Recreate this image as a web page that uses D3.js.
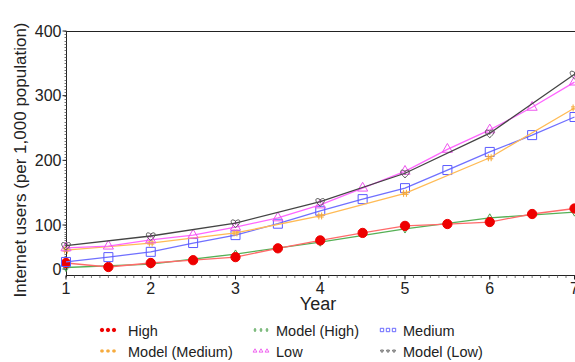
<!DOCTYPE html>
<html><head><meta charset="utf-8">
<script src="https://cdn.jsdelivr.net/npm/d3@7"></script>
<style>body{margin:0;background:#fff;} text{font-family:"Liberation Sans",Arial,sans-serif;}</style>
</head><body>
<svg id="c" width="575" height="362"></svg>
<script>
const halfYears = [1,1.5,2,2.5,3,3.5,4,4.5,5,5.5,6,6.5,7];
const years = [1,2,3,4,5,6,7];
const high = [13.6,4.5,13.6,20,27,47,65,82,98,101.5,104.6,117,125.5];
const modelHigh = [3.4,11,34,61,91,111,120];
const medium = [16,27,39,59,77,102,122,140,157,185,213,239,267];
const modelMedium = [43,59,82,114,149,204,281];
const low = [48,52,66,77,95,111,131,157,183,217,247,282,321];
const modelLow = [53,75,103,136,180,242,333];
const yTicks = [0,100,200,300,400];
const xTicks = [1,2,3,4,5,6,7];
const legendLabels = ["High","Model (High)","Medium","Model (Medium)","Low","Model (Low)"];

const svg = d3.select("#c");
const x = d3.scaleLinear().domain([1,7]).range([66,574.5]);
const y = d3.scaleLinear().domain([0,100,400]).range([269,225,31]);
const axisY = 275;

// frame top line
svg.append("line").attr("x1",66).attr("x2",575).attr("y1",31.5).attr("y2",31.5).attr("stroke","#222").attr("stroke-width",1);

// y axis
const ya = svg.append("g").attr("transform","translate(66.5,0)");
ya.append("line").attr("y1",31).attr("y2",axisY+2).attr("stroke","#222");
const yMinor = d3.range(0,401,5);
ya.selectAll(".ym").data(yMinor).join("line").attr("x1",-2).attr("x2",0)
  .attr("y1",d=>Math.round(y(d))+0.5).attr("y2",d=>Math.round(y(d))+0.5).attr("stroke","#555").attr("stroke-width",0.8);
ya.selectAll(".yM").data(yTicks).join("line").attr("x1",-4).attr("x2",0)
  .attr("y1",d=>y(d)).attr("y2",d=>y(d)).attr("stroke","#222");
ya.selectAll(".yl").data(yTicks).join("text").attr("x",-5).attr("y",d=>y(d)).attr("dy","0.35em")
  .attr("text-anchor","end").attr("font-size",16).attr("fill","#222").text(d=>d);

// x axis
const xa = svg.append("g").attr("transform",`translate(0,${axisY+0.5})`);
xa.append("line").attr("x1",66).attr("x2",575).attr("stroke","#222");
const xMinor = d3.range(10,71).map(d=>d/10);
xa.selectAll(".xm").data(xMinor).join("line").attr("x1",d=>x(d)).attr("x2",d=>x(d)).attr("y1",0).attr("y2",2.5).attr("stroke","#555").attr("stroke-width",0.8);
xa.selectAll(".xM").data(xTicks).join("line").attr("x1",d=>x(d)).attr("x2",d=>x(d)).attr("y1",0).attr("y2",4).attr("stroke","#222");
xa.selectAll(".xl").data(xTicks).join("text").attr("x",d=>x(d)).attr("y",18).attr("text-anchor","middle")
  .attr("font-size",16).attr("fill","#222").text(d=>d);

svg.append("text").attr("x",318).attr("y",310).attr("text-anchor","middle").attr("font-size",18).attr("fill","#222").text("Year");
svg.append("text").attr("transform","translate(26,160) rotate(-90)").attr("text-anchor","middle").attr("font-size",17).attr("fill","#222").text("Internet users (per 1,000 population)");

// marker shapes
const heart = s => `M0,${s*0.9} C${-s*1.3},${-s*0.1} ${-s*1.0},${-s*1.1} 0,${-s*0.4} C${s*1.0},${-s*1.1} ${s*1.3},${-s*0.1} 0,${s*0.9}Z M0,${-s*0.4} L0,${s*0.3}`;
const hash = s => `M${-s*0.4},${-s} L${-s*0.4},${s} M${s*0.4},${-s} L${s*0.4},${s} M${-s},${-s*0.3} L${s},${-s*0.3} M${-s},${s*0.3} L${s},${s*0.3}`;
const series = [
  {name:"Model (High)", xs:years, ys:modelHigh, line:"#55b055", mk:"#4a9f4a", shape:s=>d3.symbol(d3.symbolDiamond, s*s*1.2)(), fill:"none", size:4},
  {name:"High", xs:halfYears, ys:high, line:"#ff6a6a", mk:"#ee0000", shape:s=>d3.symbol(d3.symbolCircle, s*s*3.2)(), fill:"#ee0000", size:4.6},
  {name:"Medium", xs:halfYears, ys:medium, line:"#7070ff", mk:"#5a5aff", shape:s=>d3.symbol(d3.symbolSquare, s*s*4)(), fill:"none", size:4.5},
  {name:"Model (Medium)", xs:years, ys:modelMedium, line:"#ffbb55", mk:"#f5a838", shape:hash, fill:"none", size:3.5},
  {name:"Low", xs:halfYears, ys:low, line:"#ff66ff", mk:"#ee55ee", shape:s=>d3.symbol(d3.symbolTriangle, s*s*2.2)(), fill:"none", size:4.5},
  {name:"Model (Low)", xs:years, ys:modelLow, line:"#444444", mk:"#555555", shape:heart, fill:"none", size:5}
];
const lineGen = d3.line().x(d=>x(d[0])).y(d=>y(d[1]));
series.forEach(s=>{
  const pts = s.xs.map((v,i)=>[v,s.ys[i]]);
  svg.append("path").attr("d",lineGen(pts)).attr("fill","none").attr("stroke",s.line).attr("stroke-width",1.3);
  svg.selectAll(null).data(pts).join("path").attr("transform",d=>`translate(${x(d[0])},${y(d[1])})`)
    .attr("d",s.shape(s.size)).attr("fill",s.fill).attr("stroke",s.mk).attr("stroke-width",1);
});

// legend
const legendPos = [[100,331],[253,331],[380,331],[100,352],[253,352],[380,352]];
const legendText = {"High":[128],"Model (High)":[276],"Medium":[403],"Model (Medium)":[128],"Low":[276],"Model (Low)":[403]};
legendLabels.forEach((lab,i)=>{
  const s = series.find(d=>d.name===lab);
  const [lx,ly] = legendPos[i];
  for(let k=0;k<3;k++){
    svg.append("path").attr("transform",`translate(${lx+2+k*6},${ly-1})`).attr("d",s.shape(1.7))
      .attr("fill",s.fill==="none"?"none":s.mk).attr("stroke",s.mk).attr("stroke-width",0.9);
  }
  svg.append("text").attr("x",legendText[lab][0]).attr("y",ly).attr("dy","0.35em").attr("font-size",14.5).attr("fill","#222").text(lab);
});
</script>
</body></html>
